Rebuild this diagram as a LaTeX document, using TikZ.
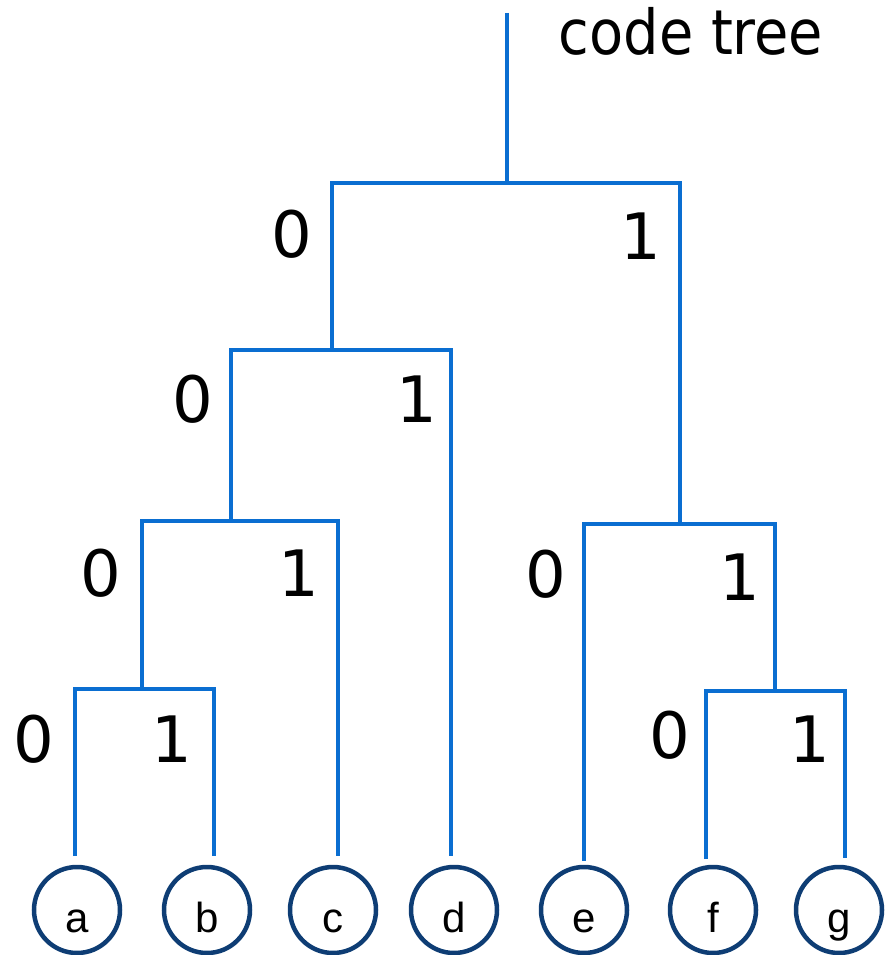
\documentclass[tikz,border=0pt]{standalone}
\usepackage{fontspec}
\setmainfont{DejaVu Sans}
\newfontfamily\leaffont{Liberation Sans}
\newfontfamily\titlefont{DejaVu Sans Condensed}
\definecolor{branchblue}{HTML}{0A6ED1}
\definecolor{leafnavy}{HTML}{0E3D74}
\begin{document}
\begin{tikzpicture}[x=1pt, y=-1pt,
  branch/.style={draw=branchblue, line width=3.3pt},
  leaf/.style={circle, draw=leafnavy, line width=4.5pt, minimum size=86pt, inner sep=0pt},
  leaflabel/.style={anchor=base, inner sep=0pt, font=\leaffont\fontsize{42}{46}\selectfont},
  bit/.style={anchor=base, inner sep=0pt, font=\fontsize{64}{70}\selectfont}]
\useasboundingbox (0,0) rectangle (892,955);

% title
\node[anchor=base, inner sep=0pt, font=\titlefont\fontsize{62}{68}\selectfont] (title) at (691,55) {code tree};

% junctions of the tree (where each subtree hangs from its parent's bar)
\coordinate (top)  at (507,13);
\coordinate (r)    at (507,183);
\coordinate (n0)   at (332,350);
\coordinate (n1)   at (680,524);
\coordinate (n00)  at (231,521);
\coordinate (n000) at (142,689);
\coordinate (n11)  at (775,691);

% free ends of the branches above the leaves
\coordinate (ta) at (75,856);
\coordinate (tb) at (214,856);
\coordinate (tc) at (338,856);
\coordinate (td) at (451,856);
\coordinate (te) at (584,861);
\coordinate (tf) at (706,859);
\coordinate (tg) at (845,858);

% leaves
\node[leaf] (a) at (77,910) {};
\node[leaf] (b) at (207,910) {};
\node[leaf] (c) at (333,910) {};
\node[leaf] (d) at (454,910) {};
\node[leaf] (e) at (584,910) {};
\node[leaf] (f) at (713,910) {};
\node[leaf] (g) at (839,910) {};
\node[leaflabel] (la) at (77,932) {a};
\node[leaflabel] (lb) at (207,932) {b};
\node[leaflabel] (lc) at (333,932) {c};
\node[leaflabel] (ld) at (454,932) {d};
\node[leaflabel] (le) at (584,932) {e};
\node[leaflabel] (lf) at (713,932) {f};
\node[leaflabel] (lg) at (839,932) {g};

% branches: each bar runs from its left child up and across to its right child
\draw[branch] (top) -- (r);
\draw[branch] (n0) |- (r) -| (n1);
\draw[branch] (n00) |- (n0) -| (td);
\draw[branch] (n000) |- (n00) -| (tc);
\draw[branch] (ta) |- (n000) -| (tb);
\draw[branch] (te) |- (n1) -| (n11);
\draw[branch] (tf) |- (n11) -| (tg);

% branch labels
\node[bit] (b0)    at (292,257) {0};
\node[bit] (b1)    at (641,259) {1};
\node[bit] (b00)   at (193,422) {0};
\node[bit] (b01)   at (417,422) {1};
\node[bit] (b000)  at (101,596) {0};
\node[bit] (b001)  at (299,596) {1};
\node[bit] (b0000) at (34,762) {0};
\node[bit] (b0001) at (172,762) {1};
\node[bit] (b10)   at (546,597) {0};
\node[bit] (b11)   at (740,600) {1};
\node[bit] (b110)  at (670,758) {0};
\node[bit] (b111)  at (810,762) {1};
\end{tikzpicture}
\end{document}
